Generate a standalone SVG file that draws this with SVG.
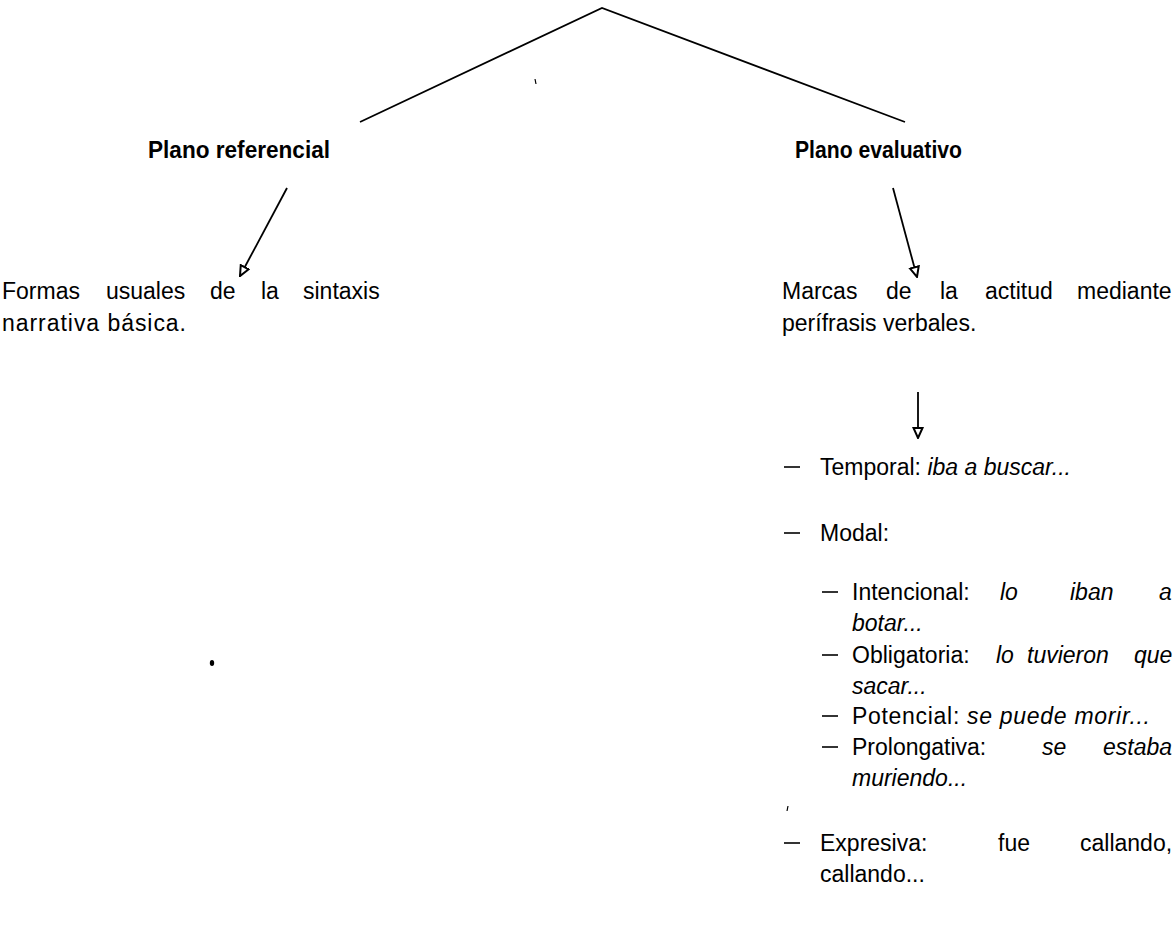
<svg xmlns="http://www.w3.org/2000/svg" width="1176" height="943" viewBox="0 0 1176 943">
<style>
.t{font-family:"Liberation Sans",Arial,sans-serif;font-size:23px;fill:#000}
.h{font-family:"Liberation Sans",Arial,sans-serif;font-size:23px;font-weight:bold;fill:#000}
.i{font-style:italic}
.ln{stroke:#000;stroke-width:1.8;fill:none}
.ds{stroke:#000;stroke-width:1.6}
</style>
<defs>
<marker id="ah" viewBox="0 0 12 12" refX="11" refY="6" markerWidth="12" markerHeight="12" markerUnits="userSpaceOnUse" orient="auto">
<path d="M1,1.5 L11,6 L1,10.5 Z" fill="#fff" stroke="#000" stroke-width="2"/>
</marker>
</defs>
<rect width="1176" height="943" fill="#fff"/>
<g id="connectors">
<polyline class="ln" points="360,122 602,8 905,122"/>
<line class="ln" x1="287" y1="188" x2="240" y2="276" marker-end="url(#ah)"/>
<line class="ln" x1="893" y1="188" x2="917" y2="277" marker-end="url(#ah)"/>
<line class="ln" x1="918" y1="392" x2="918" y2="438" marker-end="url(#ah)"/>
</g>
<g id="plano-referencial">
<text class="h" x="148" y="158" textLength="182" lengthAdjust="spacingAndGlyphs">Plano referencial</text>
</g>
<g id="plano-evaluativo">
<text class="h" x="795" y="158" textLength="167" lengthAdjust="spacingAndGlyphs">Plano evaluativo</text>
</g>
<g id="formas">
<text class="t" y="299"><tspan x="2">Formas</tspan><tspan x="106">usuales</tspan><tspan x="210">de</tspan><tspan x="261">la</tspan><tspan x="303">sintaxis</tspan></text>
<text class="t" x="2" y="331" textLength="184" lengthAdjust="spacing">narrativa básica.</text>
</g>
<g id="marcas">
<text class="t" y="299"><tspan x="782">Marcas</tspan><tspan x="886">de</tspan><tspan x="940">la</tspan><tspan x="985">actitud</tspan><tspan x="1077">mediante</tspan></text>
<text class="t" x="782" y="331">perífrasis verbales.</text>
</g>
<g id="lista">
<line class="ds" x1="784" y1="467" x2="800" y2="467"/>
<text class="t" x="820" y="475">Temporal: <tspan class="i">iba a buscar...</tspan></text>
<line class="ds" x1="784" y1="533" x2="800" y2="533"/>
<text class="t" x="820" y="541">Modal:</text>
<line class="ds" x1="822" y1="592" x2="838" y2="592"/>
<text class="t" y="600"><tspan x="852">Intencional:</tspan><tspan class="i" x="1000">lo</tspan><tspan class="i" x="1070">iban</tspan><tspan class="i" x="1159">a</tspan></text>
<text class="t i" x="852" y="631">botar...</text>
<line class="ds" x1="822" y1="655" x2="838" y2="655"/>
<text class="t" y="663"><tspan x="852">Obligatoria:</tspan><tspan class="i" x="996">lo</tspan><tspan class="i" x="1027">tuvieron</tspan><tspan class="i" x="1134">que</tspan></text>
<text class="t i" x="852" y="694">sacar...</text>
<line class="ds" x1="822" y1="716" x2="838" y2="716"/>
<text class="t" x="852" y="724" textLength="298" lengthAdjust="spacing">Potencial: <tspan class="i">se puede morir...</tspan></text>
<line class="ds" x1="822" y1="747" x2="838" y2="747"/>
<text class="t" y="755"><tspan x="852">Prolongativa:</tspan><tspan class="i" x="1042">se</tspan><tspan class="i" x="1103">estaba</tspan></text>
<text class="t i" x="852" y="786">muriendo...</text>
<line class="ds" x1="784" y1="843" x2="800" y2="843"/>
<text class="t" y="851"><tspan x="820">Expresiva:</tspan><tspan x="998">fue</tspan><tspan x="1080">callando,</tspan></text>
<text class="t" x="820" y="882">callando...</text>
</g>
<g id="marks">
<ellipse cx="212" cy="663" rx="2.2" ry="3" fill="#000"/>
<path d="M535,79 L536,84" stroke="#000" stroke-width="1.2"/>
<path d="M788,806 L787,811" stroke="#000" stroke-width="1.2"/>
</g>
</svg>
